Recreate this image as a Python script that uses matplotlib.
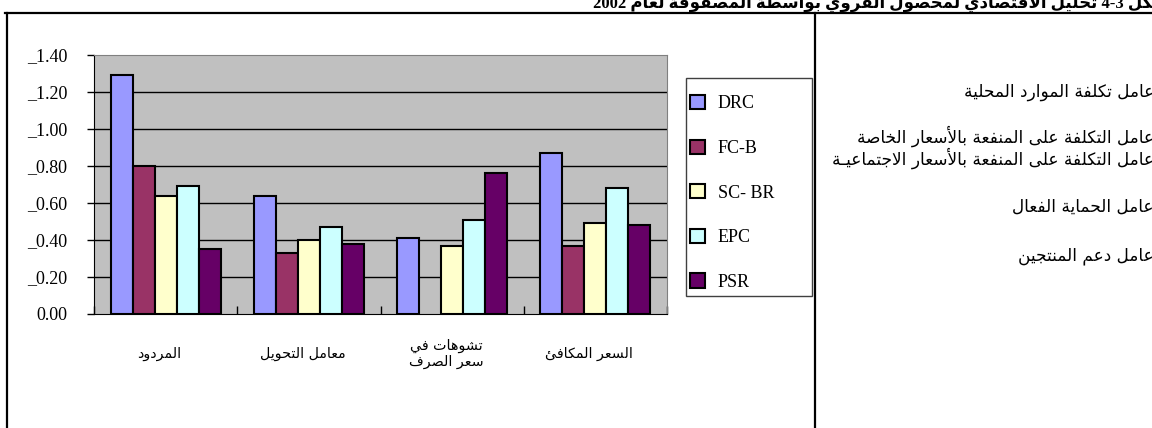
import re
import numpy as np
import matplotlib
matplotlib.use("Agg")
import matplotlib.pyplot as plt
import matplotlib.transforms as mtransforms
from matplotlib.patches import Patch, Rectangle
from matplotlib.lines import Line2D

# chart data
categories = ["المردود", "معامل التحويل", "تشوهات في\nسعر الصرف", "السعر المكافئ"]
series_names = ["DRC", "FC-B", "SC- BR", "EPC", "PSR"]
drc = [1.29, 0.64, 0.41, 0.87]
fc_b = [0.80, 0.33, np.nan, 0.37]
sc_br = [0.64, 0.40, 0.37, 0.49]
epc = [0.69, 0.47, 0.51, 0.68]
psr = [0.35, 0.38, 0.76, 0.48]
y_ticks = [0.0, 0.2, 0.4, 0.6, 0.8, 1.0, 1.2, 1.4]
notes = [
    "عامل تكلفة الموارد المحلية",
    "عامل التكلفة على المنفعة بالأسعار الخاصة",
    "عامل التكلفة على المنفعة بالأسعار الاجتماعيـة",
    "عامل الحماية الفعال",
    "عامل دعم المنتجين",
]
title = "شكل 4-3 تحليل الاقتصادي لمحصول القروي بواسطة المصفوفة لعام 2002"

colors = ["#9999FF", "#993366", "#FFFFCC", "#CCFFFF", "#660066"]

# matplotlib has no arabic shaping, so map letters to presentation forms
# and put them in visual order by hand
BASES = {'ء': 0xFE80, 'آ': 0xFE81, 'أ': 0xFE83, 'ؤ': 0xFE85, 'إ': 0xFE87,
         'ئ': 0xFE89, 'ا': 0xFE8D, 'ب': 0xFE8F, 'ة': 0xFE93, 'ت': 0xFE95,
         'ث': 0xFE99, 'ج': 0xFE9D, 'ح': 0xFEA1, 'خ': 0xFEA5, 'د': 0xFEA9,
         'ذ': 0xFEAB, 'ر': 0xFEAD, 'ز': 0xFEAF, 'س': 0xFEB1, 'ش': 0xFEB5,
         'ص': 0xFEB9, 'ض': 0xFEBD, 'ط': 0xFEC1, 'ظ': 0xFEC5, 'ع': 0xFEC9,
         'غ': 0xFECD, 'ف': 0xFED1, 'ق': 0xFED5, 'ك': 0xFED9, 'ل': 0xFEDD,
         'م': 0xFEE1, 'ن': 0xFEE5, 'ه': 0xFEE9, 'و': 0xFEED, 'ى': 0xFEEF,
         'ي': 0xFEF1}
RIGHT_ONLY = 'ءآأؤإاةدذرزوى'
LAM_ALEF = {'آ': 0xFEF5, 'أ': 0xFEF7, 'إ': 0xFEF9, 'ا': 0xFEFB}
TATWEEL = 'ـ'


def shape_line(text):
    units = []
    i = 0
    while i < len(text):
        c = text[i]
        if c == 'ل' and i + 1 < len(text) and text[i + 1] in LAM_ALEF:
            units.append(('LA', text[i + 1]))
            i += 2
        else:
            units.append((c, None))
            i += 1
    out = []
    for k, (c, a) in enumerate(units):
        prev = units[k - 1][0] if k > 0 else None
        nxt = units[k + 1][0] if k + 1 < len(units) else None
        joins_prev = (prev in BASES and prev not in RIGHT_ONLY) or prev == TATWEEL
        if c == 'LA':
            out.append(chr(LAM_ALEF[a] + (1 if joins_prev else 0)))
            continue
        if c not in BASES:
            out.append(c)
            continue
        joins_next = (c not in RIGHT_ONLY and nxt is not None
                      and ((nxt in BASES and nxt != 'ء') or nxt in ('LA', TATWEEL)))
        if c == 'ء':
            form = 0
        elif joins_prev and joins_next:
            form = 3
        elif joins_prev:
            form = 1
        elif joins_next:
            form = 2
        else:
            form = 0
        out.append(chr(BASES[c] + form))
    s = ''.join(out)[::-1]
    return re.sub(r'[0-9][0-9\-]*[0-9]|[0-9]', lambda m: m.group(0)[::-1], s)


def ar(text):
    return "\n".join(shape_line(t) for t in text.split("\n"))


W, H = 1152, 428
fig = plt.figure(figsize=(W / 100, H / 100), dpi=100)
fig.patch.set_facecolor("white")

# plot area in pixels: x 94..667, y 55..314
ax = fig.add_axes([94 / W, 1 - 314 / H, (667 - 94) / W, (314 - 55) / H])
ax.set_facecolor("#C0C0C0")

x = np.arange(len(categories))
bar_w = 1 / 6.5
all_series = [drc, fc_b, sc_br, epc, psr]
for i, (vals, name) in enumerate(zip(all_series, series_names)):
    ax.bar(x + (i - 2) * bar_w, vals, bar_w, color=colors[i],
           edgecolor="black", linewidth=1.5, label=name, zorder=3)

ax.set_xlim(-0.5, len(categories) - 0.5)
ax.set_ylim(0, 1.4)
ax.set_yticks(y_ticks)
ax.set_yticklabels(["0.00"] + ["_%.2f" % v for v in y_ticks[1:]],
                   fontfamily="Liberation Serif", fontsize=13)
ax.tick_params(axis="y", direction="out", length=5, width=1, pad=14)
ax.set_xticks(np.arange(-0.5, len(categories) + 0.5, 1))
ax.set_xticklabels([])
ax.tick_params(axis="x", direction="in", length=6, width=1)
for v in y_ticks[1:-1]:
    ax.axhline(v, color="black", linewidth=1, zorder=1)

for side in ["top", "right"]:
    ax.spines[side].set_color("#808080")
for side in ["left", "bottom"]:
    ax.spines[side].set_color("black")

# category labels under the bars, a little left of centre as in the original
shift = mtransforms.ScaledTranslation(-6 / 100, 0, fig.dpi_scale_trans)
for xi, cat in zip(x, categories):
    ax.text(xi, -40 / 259, ar(cat), transform=ax.get_xaxis_transform() + shift,
            ha="center", va="center", multialignment="center",
            fontfamily="DejaVu Sans", fontsize=10.3)

# legend: entries without frame, box drawn separately (it is wider than its text)
handles = [Patch(facecolor=c, edgecolor="black", linewidth=1.5) for c in colors]
leg = fig.legend(handles, series_names, loc="upper left",
                 bbox_to_anchor=(690 / W, 1 - 95 / H), borderaxespad=0,
                 prop={"family": "Liberation Serif", "size": 13},
                 handlelength=0.85, handleheight=0.85, handletextpad=0.7,
                 labelspacing=1.5, borderpad=0, frameon=False)
fig.add_artist(Rectangle((686 / W, 1 - 296 / H), 126 / W, 218 / H,
                         facecolor="none", edgecolor="#404040", lw=1,
                         transform=fig.transFigure))

# notes on the right
note_y = [92, 136, 158, 207, 256]
for yy, t in zip(note_y, notes):
    fig.text(1154 / W, 1 - yy / H, ar(t), ha="right", va="center",
             fontfamily="DejaVu Sans", fontsize=12.2)

# title, cut off at the top edge
fig.text(593 / W, 1 - 8 / H, ar(title), ha="left", va="baseline",
         fontfamily=["Liberation Serif", "DejaVu Sans"], fontsize=12,
         fontweight="bold")

# outer frame lines
fig.add_artist(Line2D([5 / W, 1], [1 - 13 / H, 1 - 13 / H], color="black", lw=1.6))
fig.add_artist(Line2D([7 / W, 7 / W], [0, 1 - 13 / H], color="black", lw=1.6))
fig.add_artist(Line2D([815 / W, 815 / W], [0, 1 - 13 / H], color="black", lw=1.6))

fig.savefig("out.png", dpi=100)
